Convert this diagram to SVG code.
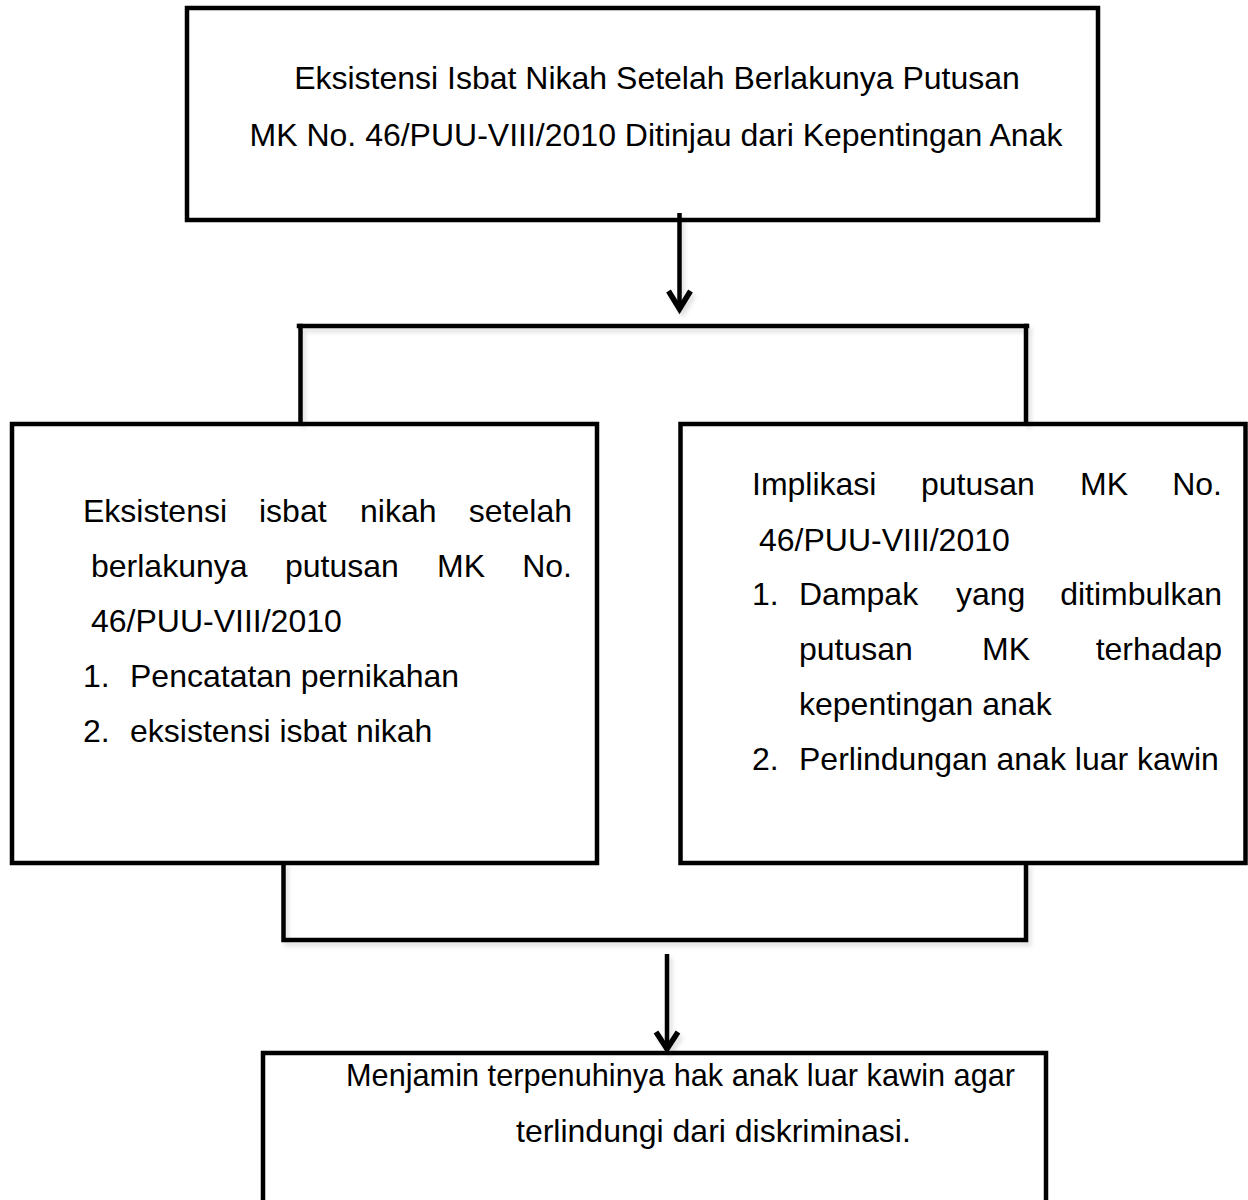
<svg xmlns="http://www.w3.org/2000/svg" width="1248" height="1200" viewBox="0 0 1248 1200">
<style>
.box{fill:#fff;stroke:#000;stroke-width:4.5;stroke-linejoin:miter}
.ln{fill:none;stroke:#000;stroke-width:4.5;stroke-linecap:square}
.ar{fill:none;stroke:#000;stroke-width:4.5}
.hd{fill:none;stroke:#000;stroke-width:5.5;stroke-linejoin:miter}
.t{font-family:"Liberation Sans",Arial,sans-serif;font-size:32px;fill:#000}
.m{text-anchor:middle}
.e{text-anchor:end}
</style>
<defs>
<filter id="sh" x="-5%" y="-5%" width="110%" height="120%">
<feDropShadow dx="3" dy="4" stdDeviation="2" flood-color="#000" flood-opacity="0.12"/>
</filter>
</defs>
<rect width="1248" height="1200" fill="#fff"/>
<g id="node-top">
<rect class="box" x="187" y="8" width="911" height="212"/>
<text class="t m" x="657" y="89">Eksistensi Isbat Nikah Setelah Berlakunya Putusan</text>
<text class="t m" x="656" y="146">MK No. 46/PUU-VIII/2010 Ditinjau dari Kepentingan Anak</text>
</g>
<g id="node-left">
<rect class="box" x="12" y="424" width="585" height="439"/>
<text class="t" x="83" y="522">Eksistensi</text>
<text class="t" x="259" y="522">isbat</text>
<text class="t" x="360" y="522">nikah</text>
<text class="t e" x="572" y="522">setelah</text>
<text class="t" x="91" y="577">berlakunya</text>
<text class="t" x="285" y="577">putusan</text>
<text class="t" x="437" y="577">MK</text>
<text class="t e" x="572" y="577">No.</text>
<text class="t" x="91" y="632">46/PUU-VIII/2010</text>
<text class="t" x="83" y="687">1.</text>
<text class="t" x="130" y="687">Pencatatan pernikahan</text>
<text class="t" x="83" y="742">2.</text>
<text class="t" x="130" y="742">eksistensi isbat nikah</text>
</g>
<g id="node-right">
<rect class="box" x="680.5" y="424" width="565" height="439"/>
<text class="t" x="752" y="495">Implikasi</text>
<text class="t" x="921" y="495">putusan</text>
<text class="t" x="1080" y="495">MK</text>
<text class="t e" x="1222" y="495">No.</text>
<text class="t" x="759" y="551">46/PUU-VIII/2010</text>
<text class="t" x="752" y="605">1.</text>
<text class="t" x="799" y="605">Dampak</text>
<text class="t" x="956" y="605">yang</text>
<text class="t e" x="1222" y="605">ditimbulkan</text>
<text class="t" x="799" y="660">putusan</text>
<text class="t" x="982" y="660">MK</text>
<text class="t e" x="1222" y="660">terhadap</text>
<text class="t" x="799" y="715">kepentingan anak</text>
<text class="t" x="752" y="770">2.</text>
<text class="t" x="799" y="770">Perlindungan anak luar kawin</text>
</g>
<g id="node-bottom">
<rect class="box" x="263" y="1053" width="783" height="200"/>
<text class="t" x="346" y="1086" textLength="669" lengthAdjust="spacingAndGlyphs">Menjamin terpenuhinya hak anak luar kawin agar</text>
<text class="t" x="516" y="1142">terlindungi dari diskriminasi.</text>
</g>
<g id="connectors" filter="url(#sh)">
<path class="ar" d="M679.5,213 V308"/>
<path class="hd" d="M668.5,291 L679.5,309 L690.5,291"/>
<path class="ln" d="M299,326 H1027"/>
<path class="ln" d="M300.5,326 V422"/>
<path class="ln" d="M1026,326 V422"/>
<path class="ln" d="M283.5,865 V940 H1026 V865"/>
<path class="ar" d="M667,954 V1048"/>
<path class="hd" d="M656,1032 L667,1049 L678,1032"/>
</g>
</svg>
